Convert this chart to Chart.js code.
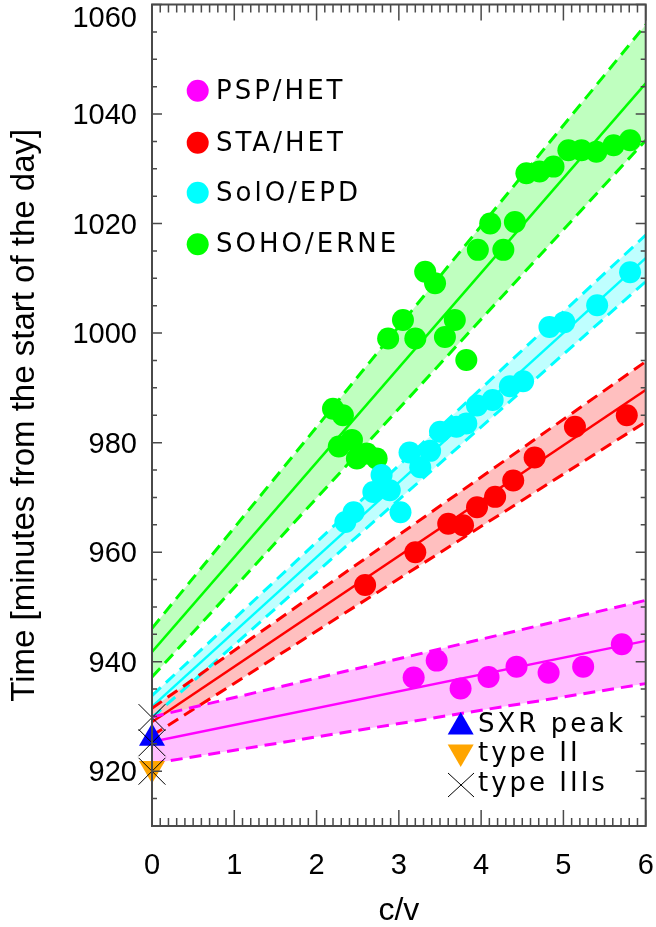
<!DOCTYPE html>
<html lang="en">
<head>
<meta charset="UTF-8">
<title>Onset time vs c/v</title>
<script src="https://cdn.jsdelivr.net/npm/chart.js"></script>
<style>
    html, body { margin: 0; padding: 0; background: #fff; }
    #wrap { width: 656px; height: 927px; }
</style>
</head>
<body>
<div id="wrap"><canvas id="vda" width="656" height="927"></canvas></div>
<script>
// axis ticks
const xTicks = [0, 1, 2, 3, 4, 5, 6];
const yTicks = [920, 940, 960, 980, 1000, 1020, 1040, 1060];

// fitted lines run from c/v = 0 to 6 (values at both ends)
const fitCv = [0, 6];

// PSP/HET
const pspCv = [3.18, 3.46, 3.75, 4.09, 4.43, 4.82, 5.24, 5.71];
const pspT  = [937.1, 940.2, 935.1, 937.2, 939.1, 938.0, 939.1, 943.2];
const pspFit = [925.4, 943.8];
const pspHi  = [929.9, 951.2];
const pspLo  = [921.4, 936.0];

// STA/HET
const staCv = [2.59, 3.20, 3.60, 3.78, 3.95, 4.17, 4.39, 4.65, 5.14, 5.77];
const staT  = [954.0, 960.0, 965.2, 964.9, 968.2, 970.1, 973.1, 977.3, 982.9, 985.0];
const staFit = [929.0, 989.6];
const staHi  = [931.5, 994.8];
const staLo  = [926.5, 983.8];

// SolO/EPD
const soloCv = [2.35, 2.45, 2.69, 2.79, 2.89, 3.02, 3.13, 3.26, 3.38, 3.50,
                3.70, 3.82, 3.95, 4.14, 4.35, 4.51, 4.83, 5.01, 5.41, 5.81];
const soloT  = [965.5, 967.3, 971.0, 974.1, 971.3, 967.3, 978.2, 975.5, 978.5, 982.0,
                982.9, 983.5, 986.8, 987.8, 990.3, 991.2, 1001.1, 1002.0, 1005.1, 1011.1];
const soloFit = [931.8, 1013.7];
const soloHi  = [933.8, 1017.9];
const soloLo  = [929.8, 1009.4];

// SOHO/ERNE
const sohoCv = [2.20, 2.32, 2.27, 2.43, 2.49, 2.61, 2.73, 2.87, 3.05, 3.20,
                3.32, 3.44, 3.56, 3.68, 3.82, 3.96, 4.11, 4.27, 4.41, 4.55,
                4.71, 4.88, 5.06, 5.22, 5.40, 5.61, 5.81];
const sohoT  = [986.2, 985.0, 979.3, 980.5, 977.1, 978.0, 977.1, 999.0, 1002.4, 999.0,
                1011.2, 1009.1, 999.3, 1002.4, 995.1, 1015.2, 1020.0, 1015.2, 1020.3, 1029.2,
                1029.5, 1030.4, 1033.4, 1033.4, 1033.1, 1034.3, 1035.2];
const sohoFit = [941.8, 1045.6];
const sohoHi  = [946.1, 1056.3];
const sohoLo  = [937.2, 1035.2];

// solar events at c/v = 0
const sxrT = [926.0];
const typeIIT = [920.5];
const typeIIIT = [929.8, 925.2, 920.0];

const seriesNames = ['PSP/HET', 'STA/HET', 'SolO/EPD', 'SOHO/ERNE'];
const seriesColors = ['#ff00ff', '#ff0000', '#00ffff', '#00ff00'];
const bandColors = ['#ffbfff', '#ffbfbf', '#bfffff', '#bfffbf'];
const eventNames = ['SXR peak', 'type II', 'type IIIs'];

const xy = (xs, ys) => xs.map((x, i) => ({ x, y: ys[i] }));

const points = (cv, t, color) => ({
    data: xy(cv, t),
    backgroundColor: color,
    borderWidth: 0,
    pointRadius: 11,
    pointHoverRadius: 11
});

const fitLine = (vals, color) => ({
    type: 'line',
    data: xy(fitCv, vals),
    borderColor: color,
    borderWidth: 2.5,
    pointRadius: 0,
    fill: false
});

const bandLine = (vals, color, band) => ({
    type: 'line',
    data: xy(fitCv, vals),
    borderColor: color,
    borderWidth: 3,
    borderDash: [12, 7],
    pointRadius: 0,
    backgroundColor: band || 'transparent',
    fill: band ? '+1' : false
});

const zeros = arr => arr.map(() => 0);

const datasets = [
    // event markers on top
    { data: xy(zeros(typeIIIT), typeIIIT), pointStyle: 'crossRot', pointRadius: 19,
      borderColor: '#000', borderWidth: 1, clip: false },
    { data: xy(zeros(sxrT), sxrT), pointStyle: 'triangle', pointRadius: 15,
      backgroundColor: '#0000ff', borderWidth: 0, clip: false },
    { data: xy(zeros(typeIIT), typeIIT), pointStyle: 'triangle', rotation: 180, pointRadius: 15,
      backgroundColor: '#ffa500', borderWidth: 0, clip: false },

    points(pspCv, pspT, seriesColors[0]),
    points(staCv, staT, seriesColors[1]),
    points(soloCv, soloT, seriesColors[2]),
    points(sohoCv, sohoT, seriesColors[3]),

    fitLine(pspFit, seriesColors[0]),
    bandLine(pspHi, seriesColors[0], bandColors[0]),
    bandLine(pspLo, seriesColors[0]),
    fitLine(staFit, seriesColors[1]),
    bandLine(staHi, seriesColors[1], bandColors[1]),
    bandLine(staLo, seriesColors[1]),
    fitLine(soloFit, seriesColors[2]),
    bandLine(soloHi, seriesColors[2], bandColors[2]),
    bandLine(soloLo, seriesColors[2]),
    fitLine(sohoFit, seriesColors[3]),
    bandLine(sohoHi, seriesColors[3], bandColors[3]),
    bandLine(sohoLo, seriesColors[3])
];

// IDL style frame with inward ticks on all four sides
const frameTicks = {
    id: 'frameTicks',
    afterDatasetsDraw(chart) {
        const { ctx, chartArea: a, scales: { x, y } } = chart;
        ctx.save();
        ctx.strokeStyle = '#4a4a4a';
        ctx.lineWidth = 1.5;
        ctx.beginPath();
        for (let i = 0; i <= 60; i++) {
            const px = x.getPixelForValue(i / 10);
            const len = i % 10 === 0 ? 16 : 8;
            ctx.moveTo(px, a.bottom); ctx.lineTo(px, a.bottom - len);
            ctx.moveTo(px, a.top); ctx.lineTo(px, a.top + len);
        }
        for (let v = 910; v <= 1060; v += 5) {
            const py = y.getPixelForValue(v);
            const len = v % 20 === 0 ? 10 : 5;
            ctx.moveTo(a.left, py); ctx.lineTo(a.left + len, py);
            ctx.moveTo(a.right, py); ctx.lineTo(a.right - len, py);
        }
        ctx.stroke();
        ctx.lineWidth = 2;
        ctx.strokeRect(a.left, a.top, a.right - a.left, a.bottom - a.top);
        ctx.restore();
    }
};

const triangle = (ctx, cx, cy, r, down) => {
    const s = down ? -1 : 1;
    ctx.beginPath();
    ctx.moveTo(cx, cy - s * r);
    ctx.lineTo(cx + r * 0.866, cy + s * r / 2);
    ctx.lineTo(cx - r * 0.866, cy + s * r / 2);
    ctx.closePath();
    ctx.fill();
};

// in-plot legends
const plotLegends = {
    id: 'plotLegends',
    afterDraw(chart) {
        const { ctx } = chart;
        ctx.save();
        ctx.font = '26px "DejaVu Sans"';
        ctx.letterSpacing = '3px';
        ctx.textBaseline = 'alphabetic';
        ctx.textAlign = 'left';
        const rowsY = [90.7, 142.7, 192.7, 244.3];
        seriesNames.forEach((name, i) => {
            ctx.fillStyle = seriesColors[i];
            ctx.beginPath();
            ctx.arc(197.7, rowsY[i], 11, 0, Math.PI * 2);
            ctx.fill();
            ctx.fillStyle = '#000';
            ctx.fillText(name, 216, rowsY[i] + 8);
        });

        const evY = [725, 752, 785];
        ctx.fillStyle = '#0000ff';
        triangle(ctx, 460.7, evY[0] + 2, 15, false);
        ctx.fillStyle = '#ffa500';
        triangle(ctx, 460.7, evY[1], 15, true);
        ctx.strokeStyle = '#000';
        ctx.lineWidth = 1;
        ctx.beginPath();
        ctx.moveTo(448, evY[2] - 12); ctx.lineTo(474, evY[2] + 12);
        ctx.moveTo(474, evY[2] - 12); ctx.lineTo(448, evY[2] + 12);
        ctx.stroke();
        ctx.fillStyle = '#000';
        ctx.fillText(eventNames[0], 478, 732);
        ctx.fillText(eventNames[1], 478, 761);
        ctx.fillText(eventNames[2], 478, 791);
        ctx.restore();
    }
};

Chart.defaults.font.family = '"Liberation Sans", Arial, sans-serif';
Chart.defaults.color = '#000';

new Chart(document.getElementById('vda'), {
    type: 'scatter',
    data: { datasets },
    options: {
        responsive: false,
        devicePixelRatio: 1,
        animation: false,
        events: [],
        layout: { autoPadding: false, padding: { top: 4.5, right: 10.3, left: 0, bottom: 0 } },
        plugins: {
            legend: { display: false },
            tooltip: { enabled: false },
            filler: { propagate: false, drawTime: 'beforeDatasetsDraw' }
        },
        scales: {
            x: {
                type: 'linear',
                min: 0,
                max: 6,
                afterBuildTicks: axis => { axis.ticks = xTicks.map(v => ({ value: v })); },
                afterFit: scale => { scale.height = 101; scale.paddingLeft = 0; scale.paddingRight = 0; },
                grid: { display: false },
                border: { display: false },
                ticks: { font: { size: 29, lineHeight: 1.2 }, padding: 15, maxRotation: 0, color: '#000' },
                title: { display: true, text: 'c/v', font: { size: 32, lineHeight: 1 }, padding: { top: 0, bottom: 0 }, color: '#000' }
            },
            y: {
                type: 'linear',
                min: 910,
                max: 1060,
                afterBuildTicks: axis => { axis.ticks = yTicks.map(v => ({ value: v })); },
                afterFit: scale => { scale.width = 152; scale.paddingTop = 0; scale.paddingBottom = 0; },
                grid: { display: false },
                border: { display: false },
                ticks: {
                    font: { size: 29, lineHeight: 0.87 },
                    padding: 7,
                    labelOffset: 2,
                    color: '#000',
                    callback: v => v === 1060 ? ['', '1060'] : String(v)
                },
                title: { display: true, text: 'Time [minutes from the start of the day]', font: { size: 33, lineHeight: 1 }, padding: { top: 8, bottom: 0 }, color: '#000' }
            }
        }
    },
    plugins: [frameTicks, plotLegends]
});
</script>
</body>
</html>
